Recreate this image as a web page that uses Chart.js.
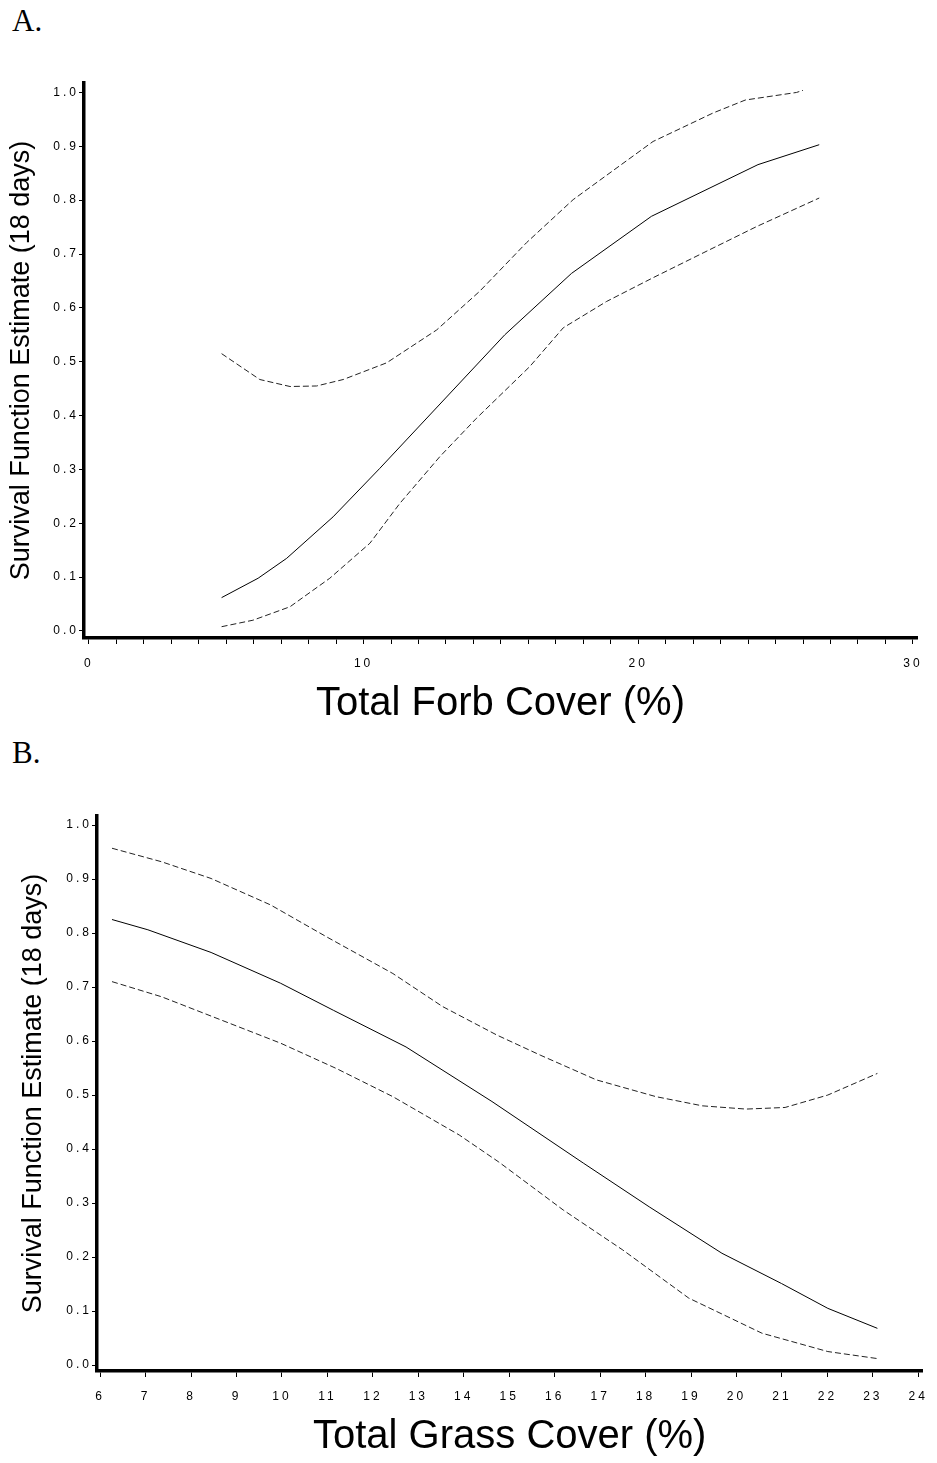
<!DOCTYPE html>
<html>
<head>
<meta charset="utf-8">
<script src="https://cdn.jsdelivr.net/npm/chart.js@4/dist/chart.umd.min.js"></script>
<style>
  body { margin: 0; background: #fff; width: 937px; height: 1463px; position: relative; overflow: hidden; }
  .panel { position: absolute; left: 0; }
  .tag { position: absolute; left: 12px; font-family: "Liberation Serif", "Times New Roman", serif; font-size: 31px; line-height: 31px; color: #000; }
</style>
</head>
<body>
<div class="tag" style="top:5px">A.</div>
<div class="tag" style="top:737px">B.</div>
<div class="panel" style="top:0"><canvas id="forbChart" width="937" height="740"></canvas></div>
<div class="panel" style="top:740px"><canvas id="grassChart" width="937" height="723"></canvas></div>
<script>
// survival ticks (shared)
const survTicks = [0, 0.1, 0.2, 0.3, 0.4, 0.5, 0.6, 0.7, 0.8, 0.9, 1.0];

// A. forb cover
const forbTicks = [0, 1, 2, 3, 4, 5, 6, 7, 8, 9, 10, 11, 12, 13, 14, 15, 16, 17, 18, 19, 20, 21, 22, 23, 24, 25, 26, 27, 28, 29, 30];
const forbLabelled = [0, 10, 20, 30];
const forbFitX = [4.83, 6.16, 7.20, 8.89, 10.59, 15.14, 17.57, 20.48, 24.36, 26.59];
const forbFitY = [0.062, 0.098, 0.135, 0.212, 0.302, 0.550, 0.664, 0.770, 0.866, 0.903];
const forbUpperX = [4.83, 6.22, 7.32, 8.29, 9.26, 10.84, 12.66, 14.23, 15.93, 17.63, 20.54, 22.73, 23.9, 25.76, 26.0];
const forbUpperY = [0.515, 0.467, 0.454, 0.455, 0.467, 0.498, 0.559, 0.631, 0.721, 0.801, 0.909, 0.962, 0.986, 1.0, 1.004];
const forbLowerX = [4.83, 5.97, 7.32, 8.77, 10.23, 11.32, 12.78, 14.11, 16.05, 17.27, 18.85, 20.54, 22.36, 24.31, 26.59];
const forbLowerY = [0.008, 0.020, 0.045, 0.098, 0.163, 0.237, 0.324, 0.395, 0.491, 0.563, 0.612, 0.656, 0.702, 0.751, 0.804];

// B. grass cover
const grassTicks = [6, 7, 8, 9, 10, 11, 12, 13, 14, 15, 16, 17, 18, 19, 20, 21, 22, 23, 24];
const grassFitX = [6.26, 7.05, 8.44, 9.97, 11.13, 12.73, 14.62, 16.63, 18.08, 19.68, 20.99, 22.01, 23.10];
const grassFitY = [0.825, 0.806, 0.764, 0.707, 0.657, 0.589, 0.488, 0.374, 0.293, 0.207, 0.151, 0.105, 0.068];
const grassUpperX = [6.26, 7.35, 8.44, 9.75, 10.98, 12.44, 13.53, 14.73, 15.68, 16.92, 18.23, 19.25, 20.21, 21.07, 22.01, 23.10];
const grassUpperY = [0.957, 0.932, 0.901, 0.852, 0.793, 0.725, 0.664, 0.611, 0.574, 0.528, 0.497, 0.480, 0.474, 0.477, 0.500, 0.540];
const grassLowerX = [6.26, 7.35, 8.66, 9.97, 11.20, 12.44, 13.90, 14.77, 16.19, 17.50, 18.95, 20.56, 22.01, 23.10];
const grassLowerY = [0.710, 0.682, 0.639, 0.596, 0.549, 0.497, 0.426, 0.376, 0.287, 0.213, 0.124, 0.059, 0.025, 0.012];

const yTitle = 'Survival Function Estimate (18 days)';
const sans = '"Liberation Sans", Arial, sans-serif';

function pts(xs, ys) {
    return xs.map((x, i) => ({x: x, y: ys[i]}));
}

function line(xs, ys, dashed) {
    return {
        data: pts(xs, ys),
        showLine: true,
        borderColor: dashed ? '#222' : '#000',
        borderWidth: 1,
        borderDash: dashed ? [6, 3] : [],
        pointRadius: 0,
        tension: 0,
        fill: false,
    };
}

// spaced-out tick digits like the SAS output
const spacedTicks = {
    id: 'spacedTicks',
    afterDatasetsDraw(chart) { chart.ctx.letterSpacing = '3px'; },
    afterDraw(chart) { chart.ctx.letterSpacing = '0px'; },
};

function makeChart(id, o) {
    return new Chart(document.getElementById(id), {
        type: 'scatter',
        data: {
            datasets: [
                line(o.fit[0], o.fit[1], false),
                line(o.upper[0], o.upper[1], true),
                line(o.lower[0], o.lower[1], true),
            ]
        },
        plugins: [spacedTicks],
        options: {
            responsive: false,
            animation: false,
            devicePixelRatio: 1,
            layout: { padding: { top: o.top, right: o.right, left: 0, bottom: 0 } },
            plugins: { legend: { display: false }, tooltip: { enabled: false } },
            scales: {
                x: {
                    type: 'linear',
                    min: o.xMin,
                    max: o.xMax,
                    afterBuildTicks: s => { s.ticks = o.xTicks.map(v => ({value: v})); },
                    afterFit: s => { s.height = o.xH; },
                    border: { display: true, color: '#000', width: 3.5 },
                    grid: { display: true, drawOnChartArea: false, drawTicks: true, tickLength: 6, color: '#000', lineWidth: 1 },
                    ticks: {
                        z: 1,
                        autoSkip: false,
                        maxRotation: 0,
                        padding: 12,
                        color: '#000',
                        font: { family: sans, size: 12 },
                        callback: v => o.xLabel(v),
                    },
                    title: {
                        display: true,
                        text: o.xTitle,
                        color: '#000',
                        font: { family: sans, size: 40 },
                        padding: { top: 0, bottom: o.xTitlePad },
                    },
                },
                y: {
                    type: 'linear',
                    min: o.yMin,
                    max: o.yMax,
                    afterBuildTicks: s => { s.ticks = survTicks.map(v => ({value: v})); },
                    afterFit: s => { s.width = o.yW; },
                    border: { display: true, color: '#000', width: 3.5 },
                    grid: { display: true, drawOnChartArea: false, drawTicks: true, tickLength: 5, color: '#000', lineWidth: 1 },
                    ticks: {
                        z: 1,
                        autoSkip: false,
                        padding: 0,
                        color: '#000',
                        font: { family: sans, size: 12 },
                        callback: v => v.toFixed(1),
                    },
                    title: {
                        display: true,
                        text: yTitle,
                        color: '#000',
                        font: { family: sans, size: 27 },
                        padding: { top: o.yTitlePad, bottom: 0 },
                    },
                },
            },
        },
    });
}

const forbChart = makeChart('forbChart', {
    fit: [forbFitX, forbFitY],
    upper: [forbUpperX, forbUpperY],
    lower: [forbLowerX, forbLowerY],
    xTicks: forbTicks,
    xLabel: v => forbLabelled.includes(v) ? String(v) : '',
    xTitle: 'Total Forb Cover (%)',
    xMin: -0.18, xMax: 30.15,
    yMin: -0.013, yMax: 1.0176,
    top: 83, right: 20, yW: 84, xH: 102,
    xTitlePad: 12, yTitlePad: 5,
});

const grassChart = makeChart('grassChart', {
    fit: [grassFitX, grassFitY],
    upper: [grassUpperX, grassUpperY],
    lower: [grassLowerX, grassLowerY],
    xTicks: grassTicks,
    xLabel: v => String(v),
    xTitle: 'Total Grass Cover (%)',
    xMin: 5.93, xMax: 24.09,
    yMin: -0.011, yMax: 1.0167,
    top: 76, right: 9, yW: 97, xH: 92,
    xTitlePad: 2, yTitlePad: 17,
});
</script>
</body>
</html>
